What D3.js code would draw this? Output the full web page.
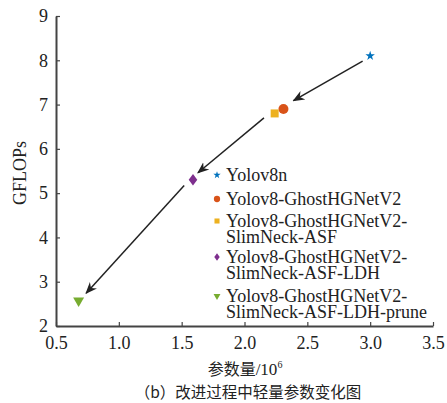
<!DOCTYPE html>
<html>
<head>
<meta charset="utf-8">
<script src="https://cdn.jsdelivr.net/npm/d3@7"></script>
<style>
  body { margin: 0; background: #fff; }
  svg text { font-family: "Liberation Serif", "Times New Roman", serif; fill: #222; }
  svg text.cjk, svg tspan.cjk { font-family: "Noto Sans CJK SC", sans-serif; }
</style>
</head>
<body>
<svg width="447" height="403"></svg>
<script>
var models = ["Yolov8n", "Yolov8-GhostHGNetV2", "Yolov8-GhostHGNetV2-SlimNeck-ASF",
              "Yolov8-GhostHGNetV2-SlimNeck-ASF-LDH", "Yolov8-GhostHGNetV2-SlimNeck-ASF-LDH-prune"];
var legendLines = [["Yolov8n"], ["Yolov8-GhostHGNetV2"], ["Yolov8-GhostHGNetV2-", "SlimNeck-ASF"],
                   ["Yolov8-GhostHGNetV2-", "SlimNeck-ASF-LDH"], ["Yolov8-GhostHGNetV2-", "SlimNeck-ASF-LDH-prune"]];
var params = [3.0, 2.31, 2.24, 1.59, 0.68];
var gflops = [8.1, 6.9, 6.8, 5.3, 2.57];
var colors = ["#0072BD", "#D95319", "#EDB120", "#7E2F8E", "#77AC30"];
var shapes = [d3.symbolStar, d3.symbolCircle, d3.symbolSquare, d3.symbolDiamond, d3.symbolTriangle];
var sizes = [28, 78, 64, 38, 52];

// arrows [x0, y0, x1, y1] in data units
var arrows = [[2.94, 7.98, 2.39, 7.09], [2.155, 6.70, 1.63, 5.46], [1.52, 5.17, 0.74, 2.74]];

var xTicks = [0.5, 1.0, 1.5, 2.0, 2.5, 3.0, 3.5];
var yTicks = [2, 3, 4, 5, 6, 7, 8, 9];

var svg = d3.select("svg");
var x = d3.scaleLinear().domain([0.5, 3.5]).range([56, 433]);
var y = d3.scaleLinear().domain([2, 9]).range([326, 16]);
var axisColor = "#444";

function markTransform(i) {
  return (i == 3 ? " scale(1.3,1)" : "") + (i == 4 ? " rotate(180)" : "");
}

// axes, ticks pointing inward
var gx = svg.append("g").attr("transform", "translate(0," + y(2) + ")")
  .call(d3.axisBottom(x).tickValues(xTicks).tickFormat(d3.format(".1f")).tickSizeInner(-4).tickSizeOuter(0).tickPadding(10));
var gy = svg.append("g").attr("transform", "translate(" + x(0.5) + ",0)")
  .call(d3.axisLeft(y).tickValues(yTicks).tickFormat(d3.format("d")).tickSizeInner(-4).tickSizeOuter(0).tickPadding(8));
[gx, gy].forEach(function(g) {
  g.attr("font-family", null).attr("font-size", 18);
  g.select(".domain").attr("stroke", axisColor).attr("stroke-width", 2);
  g.selectAll(".tick line").attr("stroke", axisColor).attr("stroke-width", 1.2);
  g.selectAll(".tick text").style("font-family", "'Liberation Serif', serif").attr("fill", "#222");
});

// arrows
svg.append("defs").append("marker")
  .attr("id", "head").attr("viewBox", "0 0 10 10").attr("refX", 9).attr("refY", 5)
  .attr("markerWidth", 12).attr("markerHeight", 12).attr("markerUnits", "userSpaceOnUse").attr("orient", "auto")
  .append("path").attr("d", "M0,1 L10,5 L0,9 L3,5 Z").attr("fill", "#222");

svg.selectAll("line.arrow").data(arrows).enter().append("line")
  .attr("class", "arrow")
  .attr("x1", function(d) { return x(d[0]); }).attr("y1", function(d) { return y(d[1]); })
  .attr("x2", function(d) { return x(d[2]); }).attr("y2", function(d) { return y(d[3]); })
  .attr("stroke", "#222").attr("stroke-width", 1.5).attr("marker-end", "url(#head)");

// points
svg.selectAll("path.pt").data(models).enter().append("path")
  .attr("class", "pt")
  .attr("transform", function(d, i) {
    return "translate(" + x(params[i]) + "," + y(gflops[i]) + ")" + markTransform(i);
  })
  .attr("d", function(d, i) { return d3.symbol().type(shapes[i]).size(sizes[i])(); })
  .attr("fill", function(d, i) { return colors[i]; });

// legend
var rowY = [175, 199, 221, 257, 296];
var leg = svg.append("g");
models.forEach(function(m, i) {
  leg.append("path")
    .attr("transform", "translate(217," + rowY[i] + ")" + markTransform(i))
    .attr("d", d3.symbol().type(shapes[i]).size(sizes[i] * (i == 0 ? 0.6 : 0.4))())
    .attr("fill", colors[i]);
  legendLines[i].forEach(function(t, j) {
    leg.append("text").attr("x", 226).attr("y", rowY[i] + 6 + j * 16)
      .attr("font-size", 18).text(t);
  });
});

// axis labels
svg.append("text").attr("transform", "translate(26,173) rotate(-90)")
  .attr("text-anchor", "middle").attr("font-size", 18).text("GFLOPs");

var xl = svg.append("text").attr("x", 245).attr("y", 375).attr("text-anchor", "middle").attr("font-size", 17);
xl.append("tspan").attr("class", "cjk").attr("font-size", 16).text("参数量");
xl.append("tspan").text("/10");
xl.append("tspan").attr("font-size", 10).attr("dy", -7).text("6");

svg.append("text").attr("class", "cjk").attr("x", 248).attr("y", 398).attr("text-anchor", "middle")
  .attr("font-size", 15.5).text("（b）改进过程中轻量参数变化图");
</script>
</body>
</html>
